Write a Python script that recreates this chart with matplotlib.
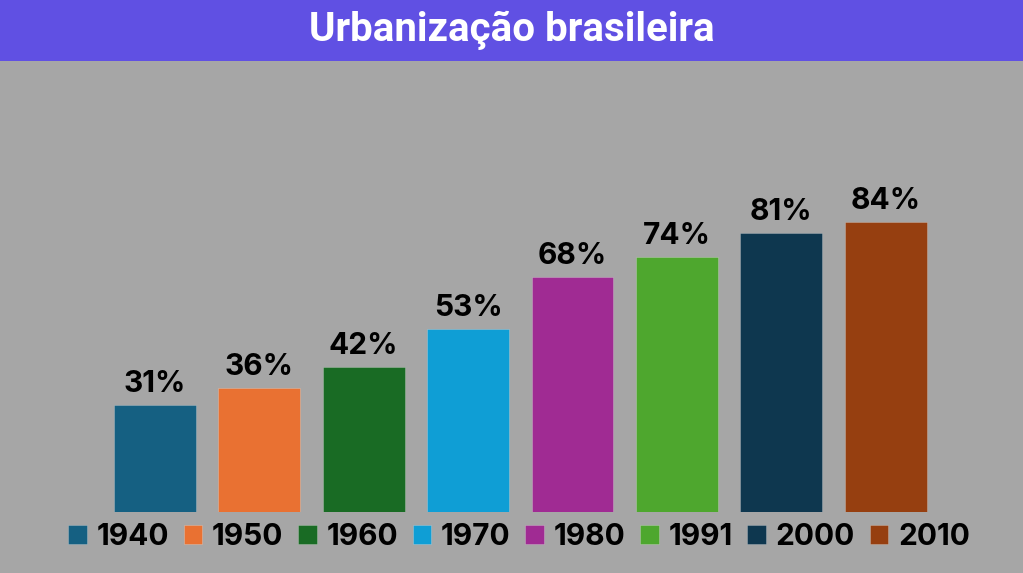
import matplotlib
matplotlib.use("Agg")
import matplotlib.pyplot as plt
from matplotlib.patches import Rectangle, Patch

years = ["1940", "1950", "1960", "1970", "1980", "1991", "2000", "2010"]
values = [31, 36, 42, 53, 68, 74, 81, 84]
colors = ["#156082", "#E97132", "#196B24", "#0F9ED5", "#A02B93", "#4EA72E", "#0E374F", "#963F10"]
title = "Urbanização brasileira"

plt.rcParams['font.family'] = ['Inter', 'DejaVu Sans']

W, H = 1023, 573
fig = plt.figure(figsize=(W / 100, H / 100), dpi=100)
fig.patch.set_facecolor("#A6A6A6")

# title band
fig.patches.append(Rectangle((0, (H - 61) / H), 1, 61 / H, transform=fig.transFigure,
                             facecolor="#6050E3", edgecolor="none", zorder=0))
fig.text(512 / W, (H - 41) / H, title, ha="center", va="baseline", color="white",
         fontsize=29, fontweight="bold", family=["Roboto", "DejaVu Sans"])

ax = fig.add_axes([102.8 / W, (H - 512) / H, 835 / W, 345 / H])
ax.set_facecolor("none")
x = list(range(len(years)))
bars = ax.bar(x, values, width=0.785, color=colors, edgecolor=(1, 1, 1, 0.25), linewidth=0.6)
ax.bar_label(bars, labels=[f"{v}%" for v in values], padding=5, fontsize=21.5,
             fontweight="bold", color="black")
ax.set_xlim(-0.5, len(years) - 0.5)
ax.set_ylim(0, 100)
ax.axis("off")

handles = [Patch(facecolor=c, edgecolor=(1, 1, 1, 0.25), linewidth=0.6) for c in colors]
leg = fig.legend(handles, years, loc="center", bbox_to_anchor=(519 / W, (H - 537) / H),
                 ncol=len(years), frameon=False, prop={"size": 21.5, "weight": "bold"},
                 handlelength=0.62, handleheight=0.62, handletextpad=0.33,
                 columnspacing=0.49, borderpad=0, borderaxespad=0)

fig.savefig("out.png", dpi=100, facecolor=fig.get_facecolor())
